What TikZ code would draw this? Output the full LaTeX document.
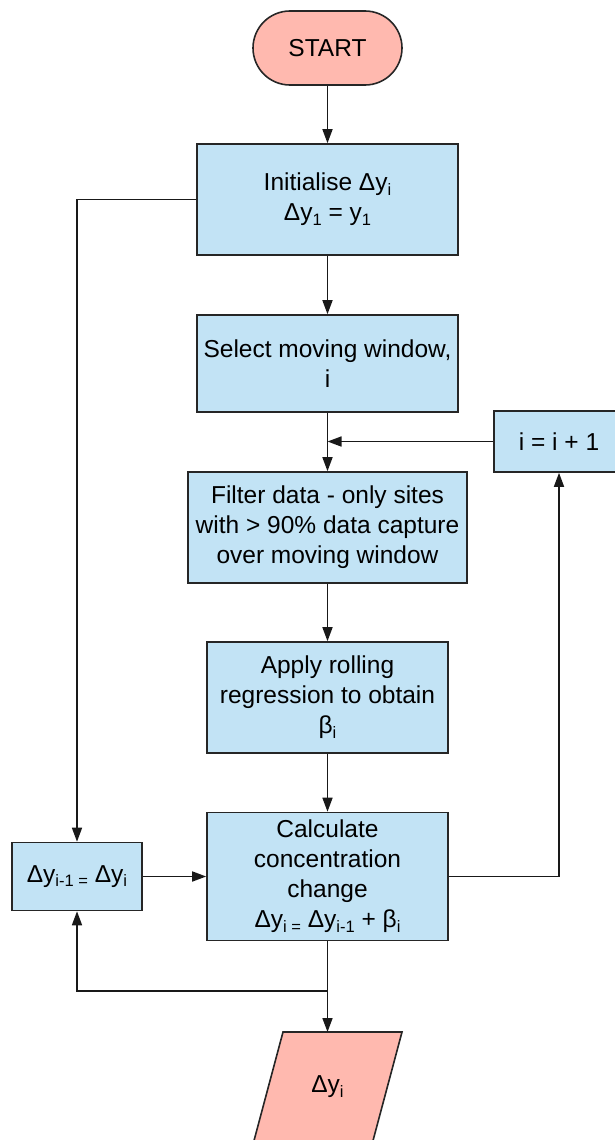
\documentclass[tikz,border=0pt]{standalone}
\usepackage{fontspec}
\setmainfont{Liberation Sans}
\usetikzlibrary{arrows.meta,shapes.misc}
\definecolor{procblue}{RGB}{194,227,245}
\definecolor{termpink}{RGB}{255,185,175}
\newcommand\lo[1]{\raisebox{-0.35ex}{\fontsize{16.5}{16.5}\selectfont #1}}
\begin{document}
\begin{tikzpicture}[x=1pt,y=-1pt,
  every node/.style={font=\fontsize{24.5}{30}\selectfont},
  procbox/.style={draw=black!85, line width=1.6pt, fill=procblue, align=center, inner sep=0pt},
  termbox/.style={draw=black!85, line width=1.6pt, fill=termpink, align=center, inner sep=0pt,
    rounded rectangle},
  arr/.style={line width=1.6pt, draw=black!90, -{Triangle[length=14pt,width=10pt]}}]
\useasboundingbox (0,0) rectangle (615,1140);

% terminal and process steps
\node[termbox, minimum width=149pt, minimum height=74pt] (start) at (327.5,48) {START};
\node[procbox, minimum width=261pt, minimum height=111pt] (init) at (327.5,199.5)
  {Initialise Δy\lo{i}\\Δy\lo{1} = y\lo{1}};
\node[procbox, minimum width=261pt, minimum height=97pt] (select) at (327.5,363.5)
  {Select moving window,\\i};
\node[procbox, minimum width=279pt, minimum height=111pt] (filter) at (327.5,527.5)
  {Filter data - only sites\\with > 90\% data capture\\over moving window};
\node[procbox, minimum width=241pt, minimum height=111pt] (apply) at (327.5,697.5)
  {Apply rolling\\regression to obtain\\β\lo{i}};
\node[procbox, minimum width=241pt, minimum height=128pt] (calc) at (327.5,876.5)
  {Calculate\\concentration\\change\\Δy\lo{i =} Δy\lo{i-1} + β\lo{i}};
\node[procbox, minimum width=130pt, minimum height=68pt] (dprev) at (77,876.5)
  {Δy\lo{i-1 =} Δy\lo{i}};
\node[procbox, minimum width=130pt, minimum height=61pt] (inc) at (559,441.5)
  {i = i + 1};

% output parallelogram, running off the lower edge
\filldraw[draw=black!85, line width=1.6pt, fill=termpink]
  (283,1032) -- (402,1032) -- (370.5,1150) -- (251.5,1150) -- cycle;
\node (out) at (327.5,1087) {Δy\lo{i}};
\coordinate (outtop) at (327.5,1032);

% junction points
\coordinate (join) at (327.5,441.5);
\coordinate (split) at (327.5,991);

% main flow
\draw[arr] (start.south) -- (init.north);
\draw[arr] (init.south) -- (select.north);
\draw[arr] (select.south) -- (filter.north);
\draw[arr] (filter.south) -- (apply.north);
\draw[arr] (apply.south) -- (calc.north);
\draw[arr] (calc.south) -- (outtop);

% loops
\draw[arr] (inc.west) -- (join);
\draw[arr] (calc.east) -| (inc.south);
\draw[arr] (init.west) -| (dprev.north);
\draw[arr] (dprev.east) -- (calc.west);
\draw[arr] (split) -| (dprev.south);
\end{tikzpicture}
\end{document}
